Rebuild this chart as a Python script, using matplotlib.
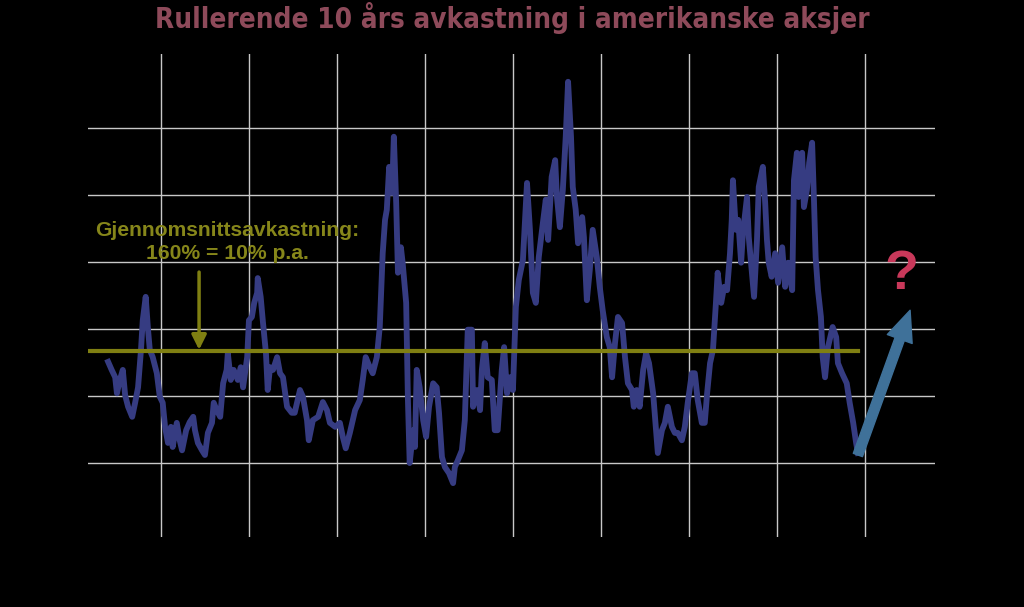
import matplotlib.pyplot as plt

# rullerende 10 års avkastning (%), lest av fra figuren
years = [
    1881.0, 1881.6, 1882.2, 1882.5, 1883.0, 1883.5, 1883.9, 1884.4, 1885.1, 1885.6,
    1886.1, 1886.6, 1886.9, 1887.4, 1887.8, 1888.1, 1888.6, 1889.3, 1889.8, 1890.3,
    1890.7, 1891.2, 1891.7, 1892.0, 1892.7, 1893.2, 1893.6, 1894.3, 1894.9, 1895.5,
    1895.8, 1896.3, 1897.0, 1897.5, 1898.0, 1898.7, 1899.0, 1899.5, 1900.1, 1900.6,
    1901.2, 1901.4, 1901.9, 1902.4, 1903.1, 1903.6, 1904.0, 1904.7, 1905.0, 1905.5,
    1905.9, 1906.4, 1906.5, 1907.0, 1907.4, 1907.9, 1908.2, 1908.6, 1909.1, 1909.8,
    1910.3, 1910.8, 1911.5, 1912.3, 1912.8, 1913.7, 1914.2, 1914.9, 1915.2, 1915.9,
    1916.8, 1917.6, 1918.3, 1918.8, 1919.7, 1920.5, 1921.0, 1921.5, 1922.2, 1923.1,
    1923.9, 1924.4, 1924.9, 1925.6, 1926.1, 1926.8, 1927.3, 1927.8, 1928.2, 1928.5,
    1928.9, 1929.4, 1929.7, 1930.1, 1930.4, 1930.9, 1931.2, 1931.8, 1932.1, 1932.4,
    1933.0, 1933.3, 1933.6, 1934.1, 1934.7, 1935.2, 1935.7, 1936.4, 1937.0, 1937.4,
    1937.9, 1938.4, 1939.1, 1939.8, 1940.1, 1940.6, 1941.3, 1941.8, 1942.3, 1943.0,
    1943.2, 1943.9, 1944.4, 1944.7, 1945.2, 1945.7, 1946.4, 1946.9, 1947.4, 1948.1,
    1948.5, 1949.0, 1949.5, 1950.0, 1950.5, 1951.0, 1951.7, 1952.4, 1952.9, 1953.4,
    1953.9, 1954.4, 1955.1, 1955.6, 1956.0, 1956.6, 1957.2, 1957.5, 1958.0, 1958.5,
    1959.0, 1959.4, 1959.9, 1960.2, 1960.7, 1961.1, 1961.8, 1962.1, 1962.6, 1963.1,
    1963.6, 1964.3, 1964.8, 1965.3, 1966.0, 1966.5, 1966.9, 1967.4, 1967.9, 1968.6,
    1969.1, 1969.6, 1970.3, 1970.6, 1971.1, 1971.6, 1972.2, 1972.7, 1973.2, 1973.9,
    1974.4, 1974.7, 1975.4, 1975.9, 1976.4, 1977.1, 1977.6, 1978.1, 1978.8, 1979.3,
    1979.8, 1980.5, 1981.0, 1981.5, 1982.2, 1982.7, 1983.1, 1983.6, 1984.1, 1984.6,
    1984.9, 1985.5, 1986.0, 1986.5, 1987.0, 1987.3, 1987.5, 1988.0, 1988.4, 1988.9,
    1989.2, 1989.9, 1990.2, 1990.7, 1991.1, 1991.6, 1991.9, 1992.6, 1993.0, 1993.3,
    1993.6, 1994.1, 1994.7, 1995.2, 1995.9, 1996.4, 1996.9, 1997.6, 1997.9, 1998.4,
    1998.7, 1999.3, 1999.6, 2000.1, 2000.5, 2001.0, 2001.3, 2001.6, 2002.0, 2002.5,
    2002.8, 2003.2, 2003.7, 2004.5, 2005.1, 2005.4, 2006.1, 2006.9, 2007.4, 2008.0,
    2008.5, 2008.8,
]
returns = [
    151, 139, 128, 104, 124, 139, 101, 84, 69, 90,
    113, 169, 213, 248, 199, 169, 158, 134, 99, 90,
    54, 30, 54, 24, 60, 34, 19, 49, 61, 69,
    49, 30, 19, 12, 45, 60, 90, 79, 69, 119,
    139, 164, 124, 139, 124, 143, 113, 158, 213, 218,
    239, 254, 276, 248, 209, 164, 109, 143, 139, 158,
    134, 128, 84, 75, 75, 109, 99, 64, 34, 64,
    69, 91, 79, 60, 54, 60, 39, 22, 45, 79,
    94, 124, 158, 143, 134, 158, 203, 313, 363, 378,
    442, 403, 487, 388, 284, 322, 299, 239, 94, 0,
    49, 24, 139, 113, 64, 39, 84, 119, 113, 75,
    9, -6, -15, -30, -6, 4, 19, 64, 199, 199,
    84, 109, 79, 139, 179, 128, 124, 49, 49, 139,
    173, 104, 128, 109, 233, 273, 303, 418, 348, 254,
    239, 307, 358, 393, 333, 427, 452, 397, 352, 407,
    487, 569, 487, 412, 378, 328, 367, 337, 243, 288,
    348, 307, 263, 228, 188, 173, 128, 179, 218, 209,
    158, 119, 109, 84, 109, 84, 139, 164, 149, 104,
    49, 15, 49, 60, 84, 54, 45, 45, 34, 54,
    90, 134, 134, 94, 60, 60, 104, 149, 169, 239,
    284, 239, 263, 258, 313, 363, 422, 348, 363, 299,
    343, 397, 337, 288, 248, 333, 412, 442, 388, 333,
    299, 278, 313, 269, 322, 263, 299, 258, 422, 463,
    397, 463, 382, 407, 448, 478, 397, 307, 258, 218,
    158, 128, 173, 203, 188, 149, 134, 119, 90, 60,
    30, 15,
]
avg_return = 167
grid_years = [1890, 1905, 1920, 1935, 1950, 1965, 1980, 1995, 2010]
grid_levels = [0, 100, 200, 300, 400, 500]

title = "Rullerende 10 års avkastning i amerikanske aksjer"
note = "Gjennomsnittsavkastning:\n160% = 10% p.a."

fig = plt.figure(figsize=(10.24, 6.07), dpi=100, facecolor="black")
ax = fig.add_axes([0.0859, 0.1153, 0.8271, 0.7957])
ax.set_facecolor("black")

ax.set_xlim(1877.56, 2021.93)
ax.set_ylim(-110.4, 610.4)
ax.set_xticks(grid_years)
ax.set_yticks(grid_levels)
ax.grid(True, color="#c8c8c8", linewidth=1.0)
ax.tick_params(length=0, labelbottom=False, labelleft=False)
for s in ax.spines.values():
    s.set_visible(False)

ax.plot(years, returns, color="#363c82", linewidth=4.2, solid_joinstyle="round", zorder=3)
ax.plot([1877.56, years[-1]], [avg_return, avg_return], color="#7f7f12", linewidth=3.0, zorder=4)

ax.text(1901.3, 298, note, color="#86861a", fontsize=15.2, fontweight="bold",
        ha="center", va="bottom", linespacing=1.3, family=["Liberation Sans", "DejaVu Sans"])
ax.annotate("", xy=(1896.5, avg_return + 2), xytext=(1896.5, 285),
            arrowprops=dict(arrowstyle="-|>", color="#7f7f12", lw=2.5,
                            mutation_scale=22, shrinkA=0, shrinkB=0), zorder=5)

# pil og spørsmålstegn til høyre
ax.annotate("", xy=(2017.7, 228), xytext=(2008.8, 12),
            arrowprops=dict(width=7, headwidth=19, headlength=22, shrink=0,
                            facecolor="#3f7199", edgecolor="#3f7199"), zorder=5)
ax.text(2016.3, 281, "?", color="#c8385a", fontsize=40, fontweight="bold",
        ha="center", va="center", family=["Liberation Sans", "DejaVu Sans"])

fig.text(0.5, 0.970, title, color="#8e4a5a", fontsize=20, fontweight="bold",
         ha="center", va="center", fontstretch="condensed",
         family=["DejaVu Sans"])

fig.savefig("out.png", dpi=100, facecolor="black")
